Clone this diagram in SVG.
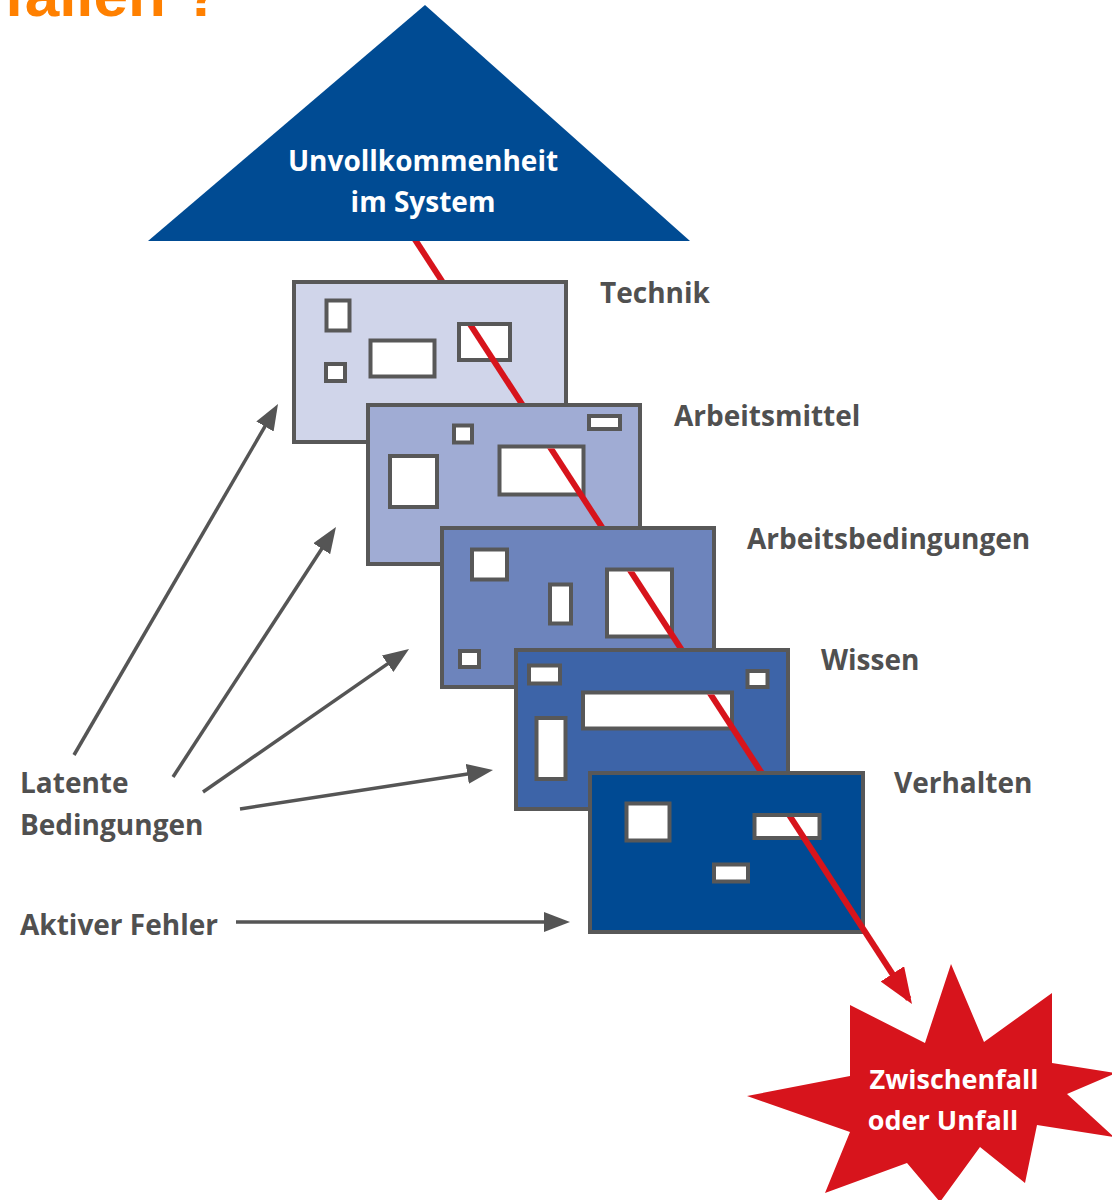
<svg xmlns="http://www.w3.org/2000/svg" width="1112" height="1200" viewBox="0 0 1112 1200">
<style>
text{font-family:"Open Sans","Liberation Sans",sans-serif;font-weight:700}
.lbl{font-size:28px;fill:#505050}
.wt{font-size:28px;fill:#ffffff}
.plate{stroke:#585858;stroke-width:4}
.hole{fill:#ffffff;stroke:#585858;stroke-width:4}
.arrow{stroke:#555555;stroke-width:3.5;fill:none}
</style>
<defs>
<marker id="ah" viewBox="0 0 26 20" refX="20" refY="10" markerWidth="26" markerHeight="20" markerUnits="userSpaceOnUse" orient="auto">
<path d="M0,0 L26,10 L0,20 Z" fill="#555555"/>
</marker>
<marker id="ahr" viewBox="0 0 36 28" refX="30" refY="14" markerWidth="36" markerHeight="28" markerUnits="userSpaceOnUse" orient="auto">
<path d="M0,0 L36,14 L0,28 Z" fill="#d7141c"/>
</marker>
<mask id="thru" maskUnits="userSpaceOnUse" x="0" y="0" width="1112" height="1200">
<rect x="0" y="0" width="1112" height="1200" fill="#fff"/>
<rect x="0" y="0" width="1112" height="241" fill="#000"/>
<rect x="290" y="280" width="279" height="46" fill="#000"/>
<rect x="364" y="403" width="279" height="45.5" fill="#000"/>
<rect x="438" y="526" width="279" height="45.5" fill="#000"/>
<rect x="512" y="648" width="279" height="46.5" fill="#000"/>
<rect x="586" y="771" width="279" height="46" fill="#000"/>
</mask>
</defs>

<g id="title">
<text x="4" y="16" font-size="62" fill="#ff8000" style="font-family:'Liberation Sans',Arial,sans-serif;font-size:62px">fallen ?</text>
</g>

<g id="node-system">
<polygon points="425,5 148,241 690,241" fill="#004b93"/>
<text class="wt" x="423" y="171" text-anchor="middle">Unvollkommenheit</text>
<text class="wt" x="423" y="212" text-anchor="middle">im System</text>
</g>

<g id="node-technik">
<rect class="plate" x="294" y="282" width="272" height="160" fill="#d0d5ea"/>
<rect class="hole" x="326.5" y="300.5" width="23" height="30"/>
<rect class="hole" x="326" y="364" width="19" height="17"/>
<rect class="hole" x="370.5" y="340.5" width="64" height="36"/>
<rect class="hole" x="459" y="324" width="51" height="36"/>
<text class="lbl" x="600" y="303">Technik</text>
</g>

<g id="node-arbeitsmittel">
<rect class="plate" x="368" y="405" width="272" height="159" fill="#a0acd4"/>
<rect class="hole" x="454" y="425.5" width="18" height="17"/>
<rect class="hole" x="589" y="416" width="31" height="13"/>
<rect class="hole" x="390" y="456" width="47" height="51"/>
<rect class="hole" x="499.5" y="446.5" width="84" height="48"/>
<text class="lbl" x="674" y="426">Arbeitsmittel</text>
</g>

<g id="node-arbeitsbedingungen">
<rect class="plate" x="442" y="528" width="272" height="159" fill="#6d84bc"/>
<rect class="hole" x="472" y="549.5" width="35" height="30"/>
<rect class="hole" x="550" y="584.5" width="21" height="39"/>
<rect class="hole" x="607" y="569.5" width="65" height="67"/>
<rect class="hole" x="460" y="651" width="19" height="16"/>
<text class="lbl" x="747" y="549">Arbeitsbedingungen</text>
</g>

<g id="node-wissen">
<rect class="plate" x="516" y="650" width="272" height="159" fill="#3d64a8"/>
<rect class="hole" x="529" y="665.5" width="31" height="18"/>
<rect class="hole" x="747.5" y="671" width="20" height="16"/>
<rect class="hole" x="583" y="692.5" width="149" height="36"/>
<rect class="hole" x="536.5" y="718" width="29" height="61"/>
<text class="lbl" x="821" y="670">Wissen</text>
</g>

<g id="node-verhalten">
<rect class="plate" x="590" y="773" width="273" height="159" fill="#004a93"/>
<rect class="hole" x="626.5" y="803.5" width="43" height="37"/>
<rect class="hole" x="754.5" y="815" width="65" height="23"/>
<rect class="hole" x="714" y="864.5" width="34" height="17"/>
<text class="lbl" x="894" y="793">Verhalten</text>
</g>

<g id="node-latent">
<text class="lbl" x="20" y="793">Latente</text>
<text class="lbl" x="20" y="835">Bedingungen</text>
</g>

<g id="node-aktiv">
<text class="lbl" x="20" y="935">Aktiver Fehler</text>
</g>

<g id="node-unfall">
<polygon points="747,1096 850,1076 850,1005 925,1043 951,964 984,1042 1052,993 1052,1063 1116,1073 1067,1094 1114,1137 1037,1125 1025,1183 980,1147 940,1202 907,1163 825,1193 850,1132" fill="#d7141c"/>
<text class="wt" x="954" y="1089" text-anchor="middle" style="font-size:27px">Zwischenfall</text>
<text class="wt" x="943" y="1130" text-anchor="middle" style="font-size:27px">oder Unfall</text>
</g>

<g id="connectors">
<line x1="414" y1="238" x2="908.7" y2="999" stroke="#d7141c" stroke-width="6" mask="url(#thru)" marker-end="url(#ahr)"/>
<line class="arrow" x1="74" y1="755" x2="275" y2="409.2" marker-end="url(#ah)"/>
<line class="arrow" x1="173" y1="777" x2="332.7" y2="532" marker-end="url(#ah)"/>
<line class="arrow" x1="203" y1="792" x2="404.1" y2="652.4" marker-end="url(#ah)"/>
<line class="arrow" x1="240" y1="809" x2="487.1" y2="770.9" marker-end="url(#ah)"/>
<line class="arrow" x1="236" y1="922" x2="564" y2="922" marker-end="url(#ah)"/>
</g>
</svg>
